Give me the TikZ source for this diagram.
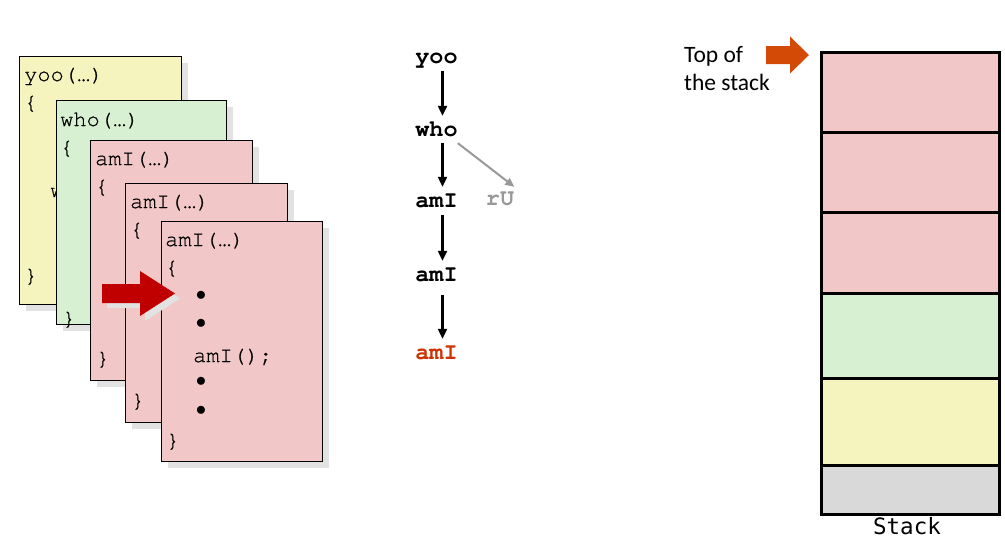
\documentclass[tikz,border=0pt]{standalone}
\usepackage{fontspec}
\newfontfamily\calfont{Carlito}
\newfontfamily\stackfont{DejaVu Sans Mono}
\newfontfamily\courfont{TeX Gyre Cursor}
\newfontfamily\codefont[FakeBold=0.6]{TeX Gyre Cursor}
\usetikzlibrary{arrows.meta,shadows}
\definecolor{cyellow}{HTML}{F6F4BE}
\definecolor{cgreen}{HTML}{D7F0D2}
\definecolor{cpink}{HTML}{F2C7C7}
\definecolor{cgray}{HTML}{D9D9D9}
\definecolor{shadowgray}{HTML}{E2E2E2}
\definecolor{cred}{HTML}{C00000}
\definecolor{corange}{HTML}{D24A06}
\definecolor{tred}{HTML}{CC3300}
\definecolor{tgray}{HTML}{999999}
\begin{document}
\begin{tikzpicture}[x=1pt,y=-1pt,
  card/.style={draw=black, line width=1.3pt, anchor=north west, inner sep=0pt,
    drop shadow={shadow xshift=6pt, shadow yshift=-6pt, fill=shadowgray, opacity=1}},
  code/.style={anchor=base west, inner sep=0pt, font=\codefont\fontsize{22}{26}\selectfont},
  bul/.style={inner sep=0pt, font=\fontsize{20}{24}\selectfont},
  tree/.style={anchor=base, inner sep=0pt, text height=11pt, text depth=0pt,
    font=\courfont\bfseries\fontsize{23.5}{28}\selectfont},
  tarr/.style={line width=2.2pt, -{Triangle[length=10pt,width=9pt]}},
  garr/.style={draw=tgray, line width=2pt, -{Triangle[length=9pt,width=8pt]}},
  stk/.style={draw=black, line width=2.5pt, anchor=north west, minimum width=178pt, inner sep=0pt}]
\useasboundingbox (0,0) rectangle (1005,538);

% ---- cards ----
\node[card, fill=cyellow, minimum width=162pt, minimum height=248pt] (c1) at (19,56) {};
\node[code] (t1a) at (24,81) {yoo(\ldots)};
\node[code] (t1b) at (24,109) {\{};
\node[code] (t1c) at (50,197) {w};
\node[code] (t1d) at (24,282) {\}};

\node[card, fill=cgreen, minimum width=170pt, minimum height=224pt] (c2) at (56,100) {};
\node[code] (t2a) at (60,126) {who(\ldots)};
\node[code] (t2b) at (60,154) {\{};
\node[code] (t2d) at (62,325) {\}};

\node[card, fill=cpink, minimum width=162pt, minimum height=240pt] (c3) at (90,140) {};
\node[code] (t3a) at (95,165) {amI(\ldots)};
\node[code] (t3b) at (95,193) {\{};
\node[code] (t3d) at (96,365) {\}};

\node[card, fill=cpink, minimum width=162pt, minimum height=239pt] (c4) at (125,183) {};
\node[code] (t4a) at (130,208) {amI(\ldots)};
\node[code] (t4b) at (130,236) {\{};
\node[code] (t4d) at (131,407) {\}};

\node[card, fill=cpink, minimum width=161pt, minimum height=240pt] (c5) at (161,221) {};
\node[code] (t5a) at (165,246) {amI(\ldots)};
\node[code] (t5b) at (165,274) {\{};
\node[bul] (b1) at (201,296) {$\bullet$};
\node[bul] (b2) at (201,324) {$\bullet$};
\node[code] (t5c) at (193,362) {amI();};
\node[bul] (b3) at (201,382) {$\bullet$};
\node[bul] (b4) at (201,411) {$\bullet$};
\node[code] (t5d) at (166,447) {\}};

% red arrow with shadow
\fill[shadowgray] (107,289) -- (145,289) -- (145,276) -- (180,298.5) -- (145,321) -- (145,308) -- (107,308) -- cycle;
\fill[cred] (102,284) -- (140,284) -- (140,271) -- (175,293.5) -- (140,316) -- (140,303) -- (102,303) -- cycle;

% ---- call tree ----
\node[tree] (yoo) at (436.5,63) {yoo};
\node[tree] (who) at (436.5,136) {who};
\node[tree] (ami1) at (436.5,207) {amI};
\node[tree, text=tgray] (ru) at (500,205) {rU};
\node[tree] (ami2) at (436.5,281) {amI};
\node[tree, text=tred] (ami3) at (436.5,359) {amI};
\draw[tarr, shorten <=8pt, shorten >=9pt] ([xshift=6pt]yoo.south) -- ([xshift=6pt]who.north);
\draw[tarr, shorten <=7pt, shorten >=9pt] ([xshift=6pt]who.south) -- ([xshift=6pt]ami1.north);
\draw[tarr, shorten <=8pt, shorten >=9pt] ([xshift=6pt]ami1.south) -- ([xshift=6pt]ami2.north);
\draw[tarr, shorten <=14pt, shorten >=9pt] ([xshift=6pt]ami2.south) -- ([xshift=6pt]ami3.north);
\draw[garr] ([yshift=-7pt]who.south east) -- ([yshift=7pt]ru.north east);

% ---- stack ----
\node[stk, fill=cpink, minimum height=80pt] (s1) at (820,51) {};
\node[stk, fill=cpink, minimum height=80pt] (s2) at (820,131) {};
\node[stk, fill=cpink, minimum height=81pt] (s3) at (820,211) {};
\node[stk, fill=cgreen, minimum height=85pt] (s4) at (820,292) {};
\node[stk, fill=cyellow, minimum height=87pt] (s5) at (820,377) {};
\node[stk, fill=cgray, minimum height=49pt] (s6) at (820,464) {};
\node[anchor=base, inner sep=0pt, font=\stackfont\fontsize{22.5}{26}\selectfont] (lbl) at (907,534) {Stack};

\node[anchor=base west, inner sep=0pt, font=\calfont\fontsize{23.5}{28}\selectfont] (top1) at (684,62) {Top of};
\node[anchor=base west, inner sep=0pt, font=\calfont\fontsize{23.5}{28}\selectfont] (top2) at (684,90) {the stack};
\fill[corange] (766,46) -- (790,46) -- (790,36.5) -- (809,55) -- (790,73.5) -- (790,64) -- (766,64) -- cycle;
\end{tikzpicture}
\end{document}
